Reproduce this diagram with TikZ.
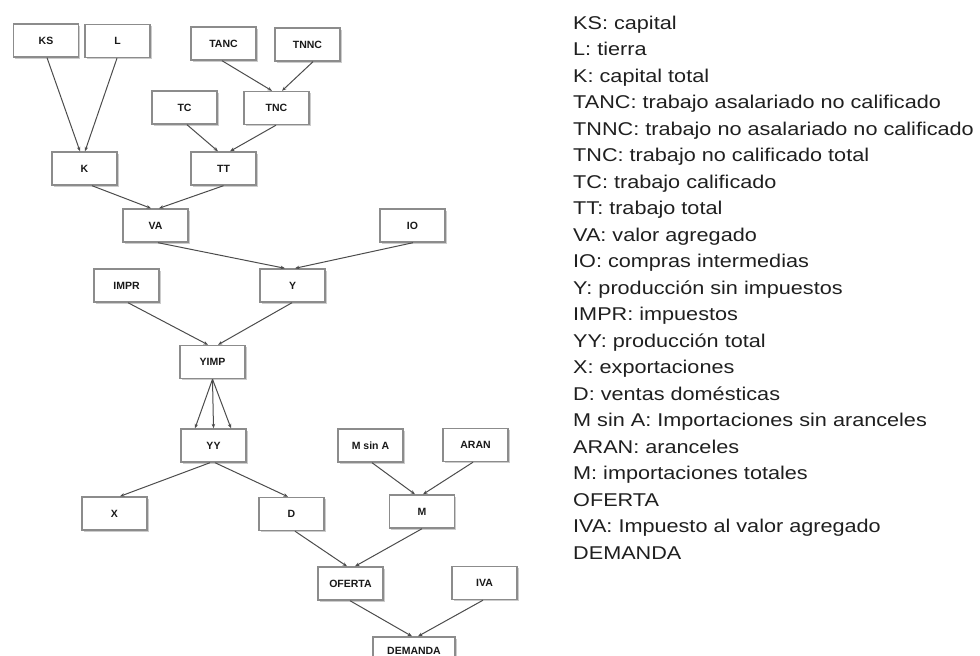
\documentclass[tikz,border=0pt]{standalone}
\usepackage{fontspec}
\setmainfont{Liberation Sans}
\usetikzlibrary{arrows.meta,shadows}
\begin{document}
\begin{tikzpicture}[x=1pt,y=-1pt,
  box/.style={draw=gray!90, line width=1.4pt, fill=white, minimum width=65pt, minimum height=33pt, inner sep=0pt,
    font=\fontsize{10.5}{12}\selectfont\bfseries, text=black!90,
    drop shadow={shadow xshift=1.5pt, shadow yshift=-1.5pt, opacity=0.4}},
  conn/.style={draw=gray!60!black, line width=1pt, -{Stealth[length=4.5pt,width=3.5pt]}},
  leg/.style={anchor=base west, inner sep=0pt, font=\fontsize{18.5}{22}\selectfont, text=black!88}]
\useasboundingbox (0,0) rectangle (980,656);

% boxes
\node[box] (KS) at (46,40.5) {KS};
\node[box] (L) at (117.5,41) {L};
\node[box] (TANC) at (223.5,43.5) {TANC};
\node[box] (TNNC) at (307.5,44.5) {TNNC};
\node[box] (TC) at (184.5,107.5) {TC};
\node[box] (TNC) at (276.5,108) {TNC};
\node[box] (K) at (84.5,168.5) {K};
\node[box] (TT) at (223.5,168.5) {TT};
\node[box] (VA) at (155.5,225.5) {VA};
\node[box] (IO) at (412.5,225.5) {IO};
\node[box] (IMPR) at (126.5,285.5) {IMPR};
\node[box] (Y) at (292.5,285.5) {Y};
\node[box] (YIMP) at (212.5,362) {YIMP};
\node[box] (YY) at (213.5,445.5) {YY};
\node[box] (MsinA) at (370.5,445.5) {M sin A};
\node[box] (ARAN) at (475.5,445) {ARAN};
\node[box] (X) at (114.5,513.5) {X};
\node[box] (D) at (291.5,514) {D};
\node[box] (M) at (422,511.5) {M};
\node[box] (OFERTA) at (350.5,583.5) {OFERTA};
\node[box] (IVA) at (484.5,583) {IVA};
\node[box, minimum width=82pt, minimum height=28pt] (DEMANDA) at (414,651) {DEMANDA};

% connectors
\draw[conn] ([xshift=1pt]KS.south) -- ([xshift=-4.5pt]K.north);
\draw[conn] ([xshift=-0.5pt]L.south) -- ([xshift=0.5pt]K.north);
\draw[conn] ([xshift=-1.5pt]TANC.south) -- ([xshift=-4.5pt]TNC.north);
\draw[conn] ([xshift=5.5pt]TNNC.south) -- ([xshift=5.5pt]TNC.north);
\draw[conn] ([xshift=2.5pt]TC.south) -- ([xshift=-5.5pt]TT.north);
\draw[conn] ([xshift=-0.5pt]TNC.south) -- ([xshift=6.5pt]TT.north);
\draw[conn] ([xshift=7.5pt]K.south) -- ([xshift=-4.5pt]VA.north);
\draw[conn] (TT.south) -- ([xshift=3.5pt]VA.north);
\draw[conn] ([xshift=2.5pt]VA.south) -- ([xshift=-7.5pt]Y.north);
\draw[conn] ([xshift=0.5pt]IO.south) -- ([xshift=2.5pt]Y.north);
\draw[conn] ([xshift=1.5pt]IMPR.south) -- ([xshift=-4.5pt]YIMP.north);
\draw[conn] ([xshift=-0.5pt]Y.south) -- ([xshift=5.5pt]YIMP.north);
\draw[conn] (YIMP.south) -- ([xshift=-18.5pt]YY.north);
\draw[conn] (YIMP.south) -- (YY.north);
\draw[conn] (YIMP.south) -- ([xshift=17.5pt]YY.north);
\draw[conn] ([xshift=-3.5pt]YY.south) -- ([xshift=5.5pt]X.north);
\draw[conn] ([xshift=1.5pt]YY.south) -- ([xshift=-3.5pt]D.north);
\draw[conn] ([xshift=1.5pt]MsinA.south) -- ([xshift=-7pt]M.north);
\draw[conn] ([xshift=-2.5pt]ARAN.south) -- ([xshift=1pt]M.north);
\draw[conn] ([xshift=3.5pt]D.south) -- ([xshift=-3.5pt]OFERTA.north);
\draw[conn] (M.south) -- ([xshift=4.5pt]OFERTA.north);
\draw[conn] ([xshift=-0.5pt]OFERTA.south) -- ([xshift=-2pt]DEMANDA.north);
\draw[conn] ([xshift=-1.5pt]IVA.south) -- ([xshift=4pt]DEMANDA.north);

% legend
\foreach \t [count=\i] in {KS: capital, L: tierra, K: capital total,
  TANC: trabajo asalariado no calificado, TNNC: trabajo no asalariado no calificado,
  TNC: trabajo no calificado total, TC: trabajo calificado, TT: trabajo total,
  VA: valor agregado, IO: compras intermedias, Y: producción sin impuestos,
  IMPR: impuestos, YY: producción total, X: exportaciones, D: ventas domésticas,
  M sin A: Importaciones sin aranceles, ARAN: aranceles, M: importaciones totales,
  OFERTA, IVA: Impuesto al valor agregado, DEMANDA}
  \node[leg] (leg\i) at (573,{29+26.5*(\i-1)}) {\scalebox{1.17}[1]{\t}};
\end{tikzpicture}
\end{document}
